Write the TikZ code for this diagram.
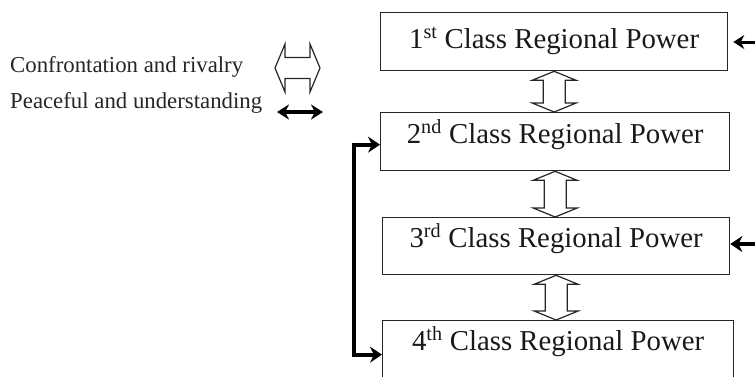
\documentclass[tikz,border=0pt]{standalone}
\usepackage{fontspec}
\setmainfont{Liberation Serif}
\usetikzlibrary{arrows.meta,calc}
\tikzset{
  box/.style={draw=black!85, line width=1.3pt, rectangle, inner sep=0pt, anchor=north west},
  boxtext/.style={anchor=base, inner sep=0pt, font=\fontsize{28.8}{32}\selectfont, text=black!90},
  legtext/.style={anchor=base west, inner sep=0pt, font=\fontsize{22.8}{26}\selectfont, text=black!85},
  hollow/.style={draw=black!85, line width=1.2pt, fill=white, line join=miter},
  blk/.style={draw=black, line width=3.5pt},
}
\newcommand{\vdarrow}[2]{%
  \path let \p1=(#1), \p2=(#2) in
    [hollow] (\x1,\y1) -- (\x1+22pt,\y1-9pt) -- (\x1+11pt,\y1-9pt) -- (\x1+11pt,\y2+9pt)
    -- (\x1+22pt,\y2+9pt) -- (\x1,\y2) -- (\x1-22pt,\y2+9pt) -- (\x1-11pt,\y2+9pt)
    -- (\x1-11pt,\y1-9pt) -- (\x1-22pt,\y1-9pt) -- cycle;}
\begin{document}
\begin{tikzpicture}[x=1pt,y=-1pt]
\useasboundingbox (0,0) rectangle (755,376);
\clip (0,0) rectangle (755,376);
% boxes
\node[box, minimum width=347pt, minimum height=58pt] (b1) at (380,12) {};
\node[box, minimum width=349pt, minimum height=58pt] (b2) at (380,112) {};
\node[box, minimum width=347pt, minimum height=57pt] (b3) at (382,217) {};
\node[box, minimum width=351pt, minimum height=80pt] (b4) at (382,320) {};
\node[boxtext] (t1) at ([yshift=-36pt]b1.north) {1\textsuperscript{st} Class Regional Power};
\node[boxtext] (t2) at ([yshift=-31pt]b2.north) {2\textsuperscript{nd} Class Regional Power};
\node[boxtext] (t3) at ([yshift=-30pt]b3.north) {3\textsuperscript{rd} Class Regional Power};
\node[boxtext] (t4) at ([yshift=-30pt]b4.north) {4\textsuperscript{th} Class Regional Power};
% hollow double arrows between boxes
\vdarrow{b1.south}{b2.north}
\vdarrow{b2.south}{b3.north}
\vdarrow{b3.south}{b4.north}
% legend
\node[legtext] (l1) at (10,72) {Confrontation and rivalry};
\node[legtext] (l2) at (10,108) {Peaceful and understanding};
\coordinate (h1) at (275,68);
\coordinate (h2) at (320,68);
\path let \p1=(h1), \p2=(h2) in
  [hollow] (\x1,\y1) -- (\x1+10pt,\y1+24pt) -- (\x1+10pt,\y1+10.5pt) -- (\x2-10pt,\y1+10.5pt)
  -- (\x2-10pt,\y1+24pt) -- (\x2,\y2) -- (\x2-10pt,\y1-24pt) -- (\x2-10pt,\y1-10.5pt)
  -- (\x1+10pt,\y1-10.5pt) -- (\x1+10pt,\y1-24pt) -- cycle;
\coordinate (p1) at (277,112);
\coordinate (p2) at (323,112);
\draw[blk, line width=4pt, {Stealth[length=12pt,width=15pt]}-{Stealth[length=12pt,width=15pt]}] (p1) -- (p2);
% left connector between 2nd and 4th
\draw[blk, line width=4pt, {Stealth[length=12pt,width=16pt]}-{Stealth[length=12pt,width=16pt]}]
  ([yshift=-3pt]b2.west) -- ++(-26pt,0) |- ([yshift=6pt]b4.west);
% right incoming arrows
\coordinate (r1) at (756,42);
\coordinate (r3) at (756,244);
\draw[blk, line width=3pt, -{Stealth[length=11pt,width=14pt]}, shorten >=5pt] (r1) -- (r1 -| b1.east);
\draw[blk, line width=4pt, -{Stealth[length=12pt,width=16pt]}] (r3) -- (r3 -| b3.east);
\end{tikzpicture}
\end{document}
